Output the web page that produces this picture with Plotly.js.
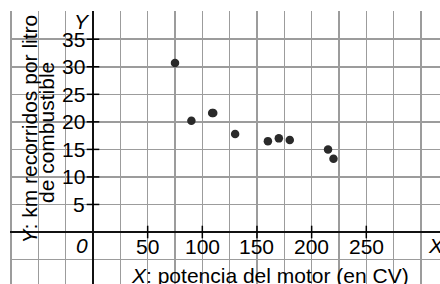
<!DOCTYPE html>
<html>
<head>
<meta charset="utf-8">
<script src="https://cdn.plot.ly/plotly-3.0.1.min.js"></script>
<style>html,body{margin:0;padding:0;background:#fff;}#chart{width:440px;height:284px;}</style>
</head>
<body>
<div id="chart"></div>
<script>
// Data
const potenciaCV = [75, 90, 109, 110, 130, 160, 170, 180, 215, 220];
const kmPorLitro = [30.7, 20.2, 21.6, 21.6, 17.8, 16.5, 17.0, 16.7, 15.0, 13.3];

const xTickVals = [50, 100, 150, 200, 250];
const xTickText = ['50', '100', '150', '200', '250'];
const yTickVals = [5, 10, 15, 20, 25, 30, 35];
const yTickText = ['5', '10', '15', '20', '25', '30', '35'];

const xTitle = '<i>X</i>: potencia del motor (en CV)';
const yTitle1 = '<i>Y</i>: km recorridos por litro';
const yTitle2 = 'de combustible';

const FONT = 'Liberation Sans, Arial, sans-serif';
const FS = 21;
const W = 440, H = 284, ML = 10, MT = 11;
const PW = W - ML, PH = H - MT;
const px = v => (v - ML) / PW;
const py = v => 1 - (v - MT) / PH;

const traces = [
  { // x-axis tick marks
    x: xTickVals, y: xTickVals.map(() => 0), mode: 'markers', hoverinfo: 'skip',
    marker: { symbol: 'line-ns', size: 9, line: { width: 1.5, color: '#000' } }
  },
  { // y-axis tick marks
    x: yTickVals.map(() => 0), y: yTickVals, mode: 'markers', hoverinfo: 'skip',
    marker: { symbol: 'line-ew', size: 9, line: { width: 1.5, color: '#000' } }
  },
  {
    x: potenciaCV, y: kmPorLitro, mode: 'markers', type: 'scatter',
    marker: { size: 8.5, color: '#2a2a2a' }
  }
];

const ann = [];
const f = { family: FONT, size: FS, color: '#000' };
xTickVals.forEach((v, i) => ann.push({
  x: v, y: 0, xref: 'x', yref: 'y', text: xTickText[i], showarrow: false,
  xanchor: 'center', yanchor: 'middle', yshift: -14, font: f
}));
yTickVals.forEach((v, i) => ann.push({
  x: 0, y: v, xref: 'x', yref: 'y', text: yTickText[i], showarrow: false,
  xanchor: 'right', yanchor: 'middle', xshift: -6, font: f
}));
ann.push({ x: 0, y: 0, xref: 'x', yref: 'y', text: '<i>0</i>', showarrow: false,
  xanchor: 'right', yanchor: 'middle', xshift: -3, yshift: -13, font: f });
ann.push({ x: 0, y: 40, xref: 'x', yref: 'y', text: '<i>Y</i>', showarrow: false,
  xanchor: 'right', yanchor: 'middle', xshift: -1, yshift: -10, font: f });
ann.push({ x: 305, y: 0, xref: 'x', yref: 'y', text: '<i>X</i>', showarrow: false,
  xanchor: 'left', yanchor: 'middle', yshift: -13, font: f });
ann.push({ x: px(270), y: py(275), xref: 'paper', yref: 'paper', text: xTitle, showarrow: false,
  xanchor: 'center', yanchor: 'middle', font: f });
ann.push({ x: px(28.5), y: py(129), xref: 'paper', yref: 'paper', text: yTitle1, showarrow: false,
  xanchor: 'center', yanchor: 'middle', textangle: -90, font: f });
ann.push({ x: px(46), y: py(133), xref: 'paper', yref: 'paper', text: yTitle2, showarrow: false,
  xanchor: 'center', yanchor: 'middle', textangle: -90, font: f });

const xPerPx = 1 / 1.0932;
const yPerPx = 1 / 5.5075;
const layout = {
  width: W, height: H,
  margin: { l: ML, r: 0, t: MT, b: 0, pad: 0 },
  paper_bgcolor: '#fff', plot_bgcolor: '#fff',
  showlegend: false,
  font: { family: FONT, size: FS, color: '#000' },
  xaxis: {
    range: [-(93 - ML) * xPerPx, (W - 93) * xPerPx],
    tick0: 0, dtick: 25, showticklabels: false, ticks: '',
    showgrid: true, gridcolor: '#9c9c9c', gridwidth: 1.5,
    zeroline: true, zerolinecolor: '#111', zerolinewidth: 1.8,
    showline: false, fixedrange: true
  },
  yaxis: {
    range: [-(H - 232) * yPerPx, (232 - MT) * yPerPx],
    tick0: 0, dtick: 5, showticklabels: false, ticks: '',
    showgrid: true, gridcolor: '#9c9c9c', gridwidth: 1.5,
    zeroline: true, zerolinecolor: '#111', zerolinewidth: 1.8,
    showline: false, fixedrange: true
  },
  annotations: ann
};

Plotly.newPlot('chart', traces, layout, { displayModeBar: false, staticPlot: true });
</script>
</body>
</html>
